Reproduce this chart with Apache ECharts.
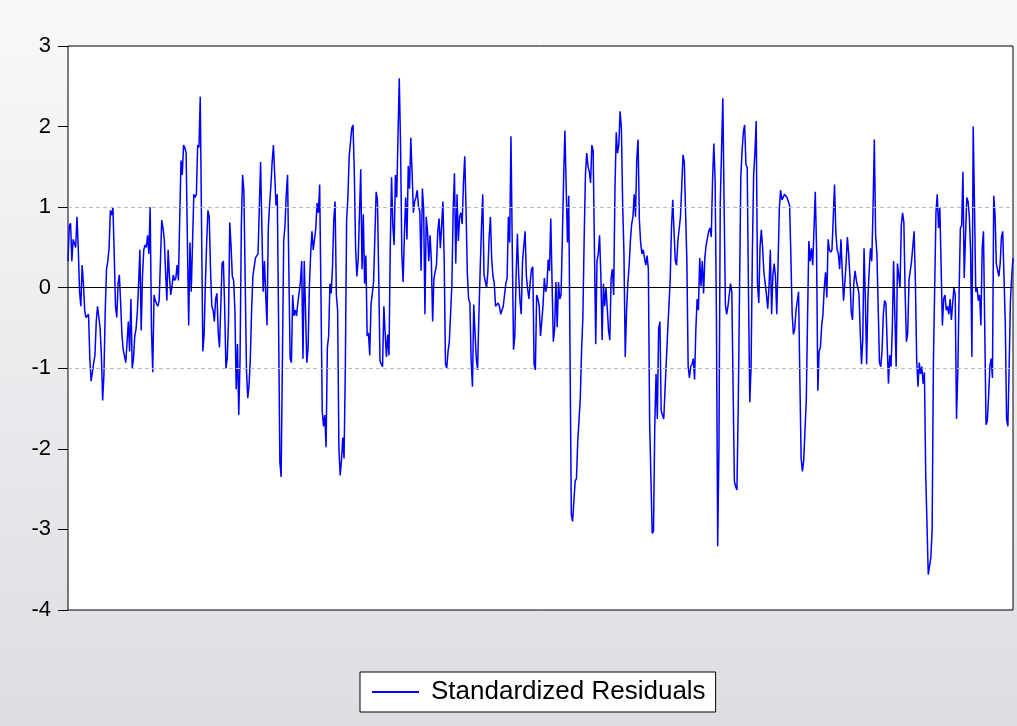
<!DOCTYPE html>
<html>
<head>
<meta charset="utf-8">
<script src="https://cdn.jsdelivr.net/npm/echarts@6/dist/echarts.min.js"></script>
<style>
html,body{margin:0;padding:0;}
#chart{width:1017px;height:726px;}
</style>
</head>
<body>
<div id="chart"></div>
<script>
var seriesName = 'Standardized Residuals';
var yTicks = [-4, -3, -2, -1, 0, 1, 2, 3];
var refLines = [-1, 0, 1];

var seg1 = [0.33,0.77,0.8,0.33,0.6,0.55,0.5,0.88,0.49,-0.05,-0.23,0.28,0.05,-0.28,-0.37,-0.36,-0.33,-0.88,-1.16,-1.05,-0.93,-0.84,-0.42,-0.23,-0.21,-0.5,-0.84,-1.4,-1.07,-0.28,0.23,0.33,0.49,0.96,0.9,1.0,0.42,-0.23,-0.37,0.05,0.16,-0.19,-0.58,-0.77,-0.85,-0.93,-0.95,-0.42,-0.79,-0.14,-1.0,-0.88,-0.6,-0.51,-0.30,0.05,0.47,-0.53,0.14,0.47,0.53,0.5,0.65,0.42,1.0,-0.51,-1.05,-0.09,-0.16,-0.2,-0.23,-0.16,0.33,0.84,0.74,0.6,0.19,-0.16,0.47,0.14,-0.09,0.02,0.16,0.09,0.12,0.28,0.09,0.84,1.58,1.4,1.77,1.74];
var seg2 = [1.67,0.58,-0.47,0.56,-0.05,0.56,1.16,1.12,1.16,1.77,1.74,2.37,0.79,-0.79,-0.58,0.05,0.56,0.96,0.88,0.23,-0.23,-0.28,-0.42,-0.14,-0.07,-0.56,-0.74,-0.23,0.3,0.33,-0.23,-1.0,-0.88,-0.42,0.81,0.51,0.14,0.09,-0.28,-1.26,-0.7,-1.58,-0.88,0.77,1.4,1.19,0.09,-1.02,-1.37,-1.21,-0.88,-0.28,0.14,0.12,0.37,0.37,0.42,0.98,1.56,0.74,-0.05,0.33,-0.09,-0.47,0.74,1.03,1.26,1.56,1.77,1.4,1.02,1.16,-0.42,-2.16,-2.35,-0.88,0.58,0.77,1.16,1.4,0.23,-0.88,-0.93,-0.09,-0.35,-0.28,-0.35,-0.19,-0.21,0.07,0.33,-0.88];
var seg3 = [0.33,-0.3,-0.93,-0.74,0.02,0.42,0.7,0.47,0.6,0.74,1.05,0.93,1.28,-0.07,-1.53,-1.72,-1.58,-1.98,-0.74,-0.6,0.05,-0.07,0.26,0.84,1.07,-0.09,-0.28,-2.0,-2.33,-2.14,-1.86,-2.12,-0.98,0.84,1.12,1.63,1.65,1.98,2.02,1.42,0.49,0.14,0.35,0.91,1.47,0.23,0.91,0.05,0.4,-0.6,-0.56,-0.84,-0.21,-0.07,0.07,0.63,1.19,1.1,0.14,-0.91,-0.95,-0.98,-0.23,-0.56,-0.86,-0.58,-0.84,0.51,1.37,0.77,0.53,1.4,1.12,1.86,2.6,1.77,0.42,0.07,0.65,1.12,0.6,1.51,1.23,1.86,1.42,0.93,1.07,1.12,1.21,1.0,0.95,0.21];
var seg4 = [1.23,0.98,-0.33,0.88,0.7,0.33,0.65,0.33,-0.42,0.12,0.14,0.28,0.7,0.86,0.49,0.77,1.07,0.33,-0.95,-1.0,-0.79,-0.67,-0.65,0.05,0.98,1.42,0.3,1.16,0.58,0.88,0.93,0.79,1.3,1.63,0.98,0.19,-0.14,-0.19,-0.91,-1.23,-0.21,-0.56,-0.88,-1.02,-0.35,0.21,0.74,1.16,0.16,0.14,0.0,0.19,0.63,0.88,0.35,0.14,0.05,-0.23,-0.21,-0.19,-0.23,-0.33,-0.35,-0.23,-0.21,0.05,0.12,0.88,0.56,1.88,0.51,-0.77,-0.6,0.14,0.67,0.16,-0.16,-0.33,0.33,0.35,0.7,0.14,-0.02,-0.14,0.07,0.23,0.26,-0.95,-1.02,-0.09,-0.14];
var seg5 = [-0.23,-0.6,-0.42,-0.21,0.12,-0.05,0.02,0.35,0.21,0.86,0.07,-0.67,-0.51,0.07,-0.49,0.07,-0.14,-0.09,0.6,1.35,1.95,1.26,0.56,1.14,-0.81,-2.81,-2.9,-2.65,-2.4,-2.37,-1.91,-1.91,-1.37,-0.77,-0.37,0.6,1.4,1.67,1.51,1.44,1.3,1.77,1.7,0.49,-0.7,0.33,0.42,0.65,0.16,-0.65,0.05,-0.23,0.0,-0.26,-0.53,-0.65,0.12,0.23,-0.09,1.23,1.93,1.67,1.77,2.19,1.98,1.03,0.42,-0.86,-0.3,0.05,0.26,0.58,0.79,0.88,1.16,0.88,1.6,1.84,0.84,0.56,0.42,0.47,0.37,0.28,0.4,0.23,-1.67,-1.67,-3.05,-3.02,-1.72,-1.07];
var seg6 = [-1.63,-0.51,-0.42,-1.53,-1.53,-1.63,-1.26,-0.91,-0.56,-0.56,0.09,0.74,1.09,0.7,0.33,0.28,0.58,0.58,0.88,1.26,1.65,1.56,0.93,0.33,-0.98,-1.12,-0.98,-0.95,-0.88,-1.14,-0.51,-0.14,-0.28,0.37,0.02,0.33,-0.07,0.37,0.53,0.51,0.7,0.74,0.63,1.33,1.79,1.33,-0.33,-3.21,-1.95,1.05,1.07,2.35,1.03,-0.21,-0.33,-0.23,-0.09,0.05,-0.05,-1.23,-2.4,-2.47,-2.51,-1.47,-0.07,1.37,1.7,1.93,2.02,1.53,1.49,-0.09,-1.42,-0.98,0.42,1.4,1.67,2.07,0.05,-0.19,0.51,0.72,0.49,0.19,0.05,-0.09,-0.26,0.02,0.47,-0.33,0.16,0.3];
var seg7 = [0.14,-0.33,0.28,0.98,1.21,1.09,1.12,1.16,1.14,1.12,1.12,1.02,0.4,-0.33,-0.58,-0.51,-0.28,-0.3,-0.05,-1.14,-2.12,-2.28,-2.14,-1.77,-1.4,-0.37,0.58,0.33,0.49,0.28,0.72,1.19,0.49,-1.28,-0.79,-0.74,-0.47,-0.33,0.0,0.19,-0.12,0.6,0.47,0.44,0.47,0.86,1.28,0.7,0.47,0.42,0.23,0.6,0.21,-0.16,0.05,0.3,0.63,0.42,0.14,-0.3,-0.4,0.05,0.21,0.09,0.07,-0.07,-0.53,-0.95,-0.65,0.49,-0.14,-0.95,-0.14,0.21,0.49,0.33,0.98,1.84,0.65,0.42,-0.23,-0.93,-0.98,-0.79,-0.33,-0.16,-0.19,-0.7,-1.19,-0.84,-0.98,-0.51,0.33];
var seg8 = [-0.35,-0.98,0.3,0.28,0.0,0.77,0.93,0.81,-0.07,-0.67,-0.56,0.09,0.07,0.33,0.33,0.7,0.05,-0.91,-1.23,-0.93,-1.07,-0.98,-1.19,-1.05,-2.3,-2.3,-3.56,-3.58,-3.35,-3.02,-0.95,-0.95,0.93,1.16,0.74,1.0,0.28,-0.47,-0.14,-0.09,-0.28,-0.23,-0.33,-0.14,-0.4,-0.19,0.0,-0.09,-1.63,-1.05,-0.09,0.74,0.77,1.44,0.12,0.63,1.12,1.07,0.88,0.44,-0.86,2.0,1.02,-0.05,0.0,-0.16,-0.09,-0.47,0.49,0.7,-0.51,-1.7,-1.65,-1.35,-0.98,-0.88,-1.12,1.14,0.91,0.3,0.28,0.14,0.3,0.63,0.7,0.7,-0.44,-1.63,-1.72,-0.98,-0.16,0.14,0.37];

var values = [].concat(seg1, seg2, seg3, seg4, seg5, seg6, seg7, seg8);
var categories = values.map(function (v, i) { return String(i + 1); });

var chart = echarts.init(document.getElementById('chart'), null, {renderer: 'canvas'});
chart.setOption({
  animation: false,
  backgroundColor: {
    type: 'linear', x: 0, y: 0, x2: 0, y2: 1,
    colorStops: [
      {offset: 0, color: '#f9f8fa'},
      {offset: 1, color: '#dfdde1'}
    ]
  },
  grid: {
    left: 68, right: 4, top: 46, bottom: 116,
    show: true, backgroundColor: '#ffffff', borderColor: '#000000', borderWidth: 1,
    containLabel: false
  },
  legend: {
    left: 360, top: 672,
    itemWidth: 47, itemHeight: 2, itemGap: 10,
    padding: [7, 10, 7, 12],
    backgroundColor: '#ffffff', borderColor: '#000000', borderWidth: 1, borderRadius: 0,
    textStyle: {fontFamily: 'Liberation Sans, Arial, sans-serif', fontSize: 26, color: '#000000', padding: [0, 0, 0, 7]},
    data: [{name: seriesName, icon: 'rect'}]
  },
  xAxis: {
    type: 'category', data: categories, boundaryGap: false,
    axisLine: {show: false}, axisTick: {show: false}, axisLabel: {show: false}, splitLine: {show: false}
  },
  yAxis: {
    type: 'value', min: yTicks[0], max: yTicks[yTicks.length - 1], interval: 1,
    axisLine: {show: false},
    axisTick: {show: true, length: 10, lineStyle: {color: '#000000', width: 1}},
    axisLabel: {margin: 17, fontFamily: 'Liberation Sans, Arial, sans-serif', fontSize: 22, color: '#000000'},
    splitLine: {show: false}
  },
  series: [{
    name: seriesName, type: 'line', data: values,
    showSymbol: false, symbol: 'none',
    lineStyle: {color: '#0000ff', width: 1.5},
    itemStyle: {color: '#0000ff'},
    markLine: {
      silent: true, symbol: 'none', label: {show: false}, animation: false,
      data: refLines.map(function (v) {
        return {
          yAxis: v,
          lineStyle: v === 0 ? {color: '#000000', width: 1, type: 'solid'} : {color: '#bdbdbd', width: 1, type: [4, 3]}
        };
      })
    }
  }]
});
</script>
</body>
</html>
